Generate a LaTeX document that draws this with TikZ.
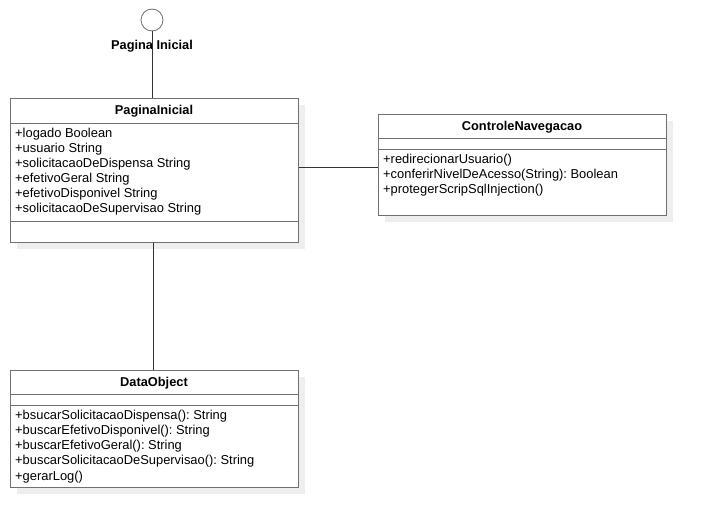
\documentclass[tikz,border=0pt]{standalone}
\usepackage{fontspec}
\setmainfont{Liberation Sans}
\frenchspacing
\begin{document}
\begin{tikzpicture}[x=1pt,y=-1pt,
  classbox/.style={draw=boxgray, fill=white, line width=1pt, rectangle, inner sep=0pt, anchor=north west},
  shadowbox/.style={fill=shadowgray, draw=none, rectangle, inner sep=0pt, anchor=north west},
  sepline/.style={draw=boxgray, line width=1pt},
  title/.style={font=\fontsize{12.8}{14}\selectfont\bfseries, anchor=center, inner sep=0pt},
  member/.style={font=\fontsize{12.9}{14}\selectfont, anchor=west, inner sep=0pt},
  conn/.style={draw=black!80, line width=0.9pt}]
\definecolor{boxgray}{HTML}{707070}
\definecolor{shadowgray}{HTML}{EEEEEE}
\useasboundingbox (0,0) rectangle (706,527);
% interface
\node[circle, draw=boxgray, fill=white, line width=0.8pt, minimum size=22pt, inner sep=0pt] (iface) at (152,20) {};
\node[font=\fontsize{12.8}{14}\selectfont\bfseries, inner sep=0pt] (ifacelabel) at (152,46) {Pagina Inicial};
% PaginaInicial
\node[shadowbox, minimum width=288pt, minimum height=144pt] (pishadow) at (17,105) {};
\node[classbox, minimum width=288pt, minimum height=144pt] (pi) at (10,98) {};
\draw[sepline] (10,123) -- (298,123);
\draw[sepline] (10,221) -- (298,221);
\node[title] (pititle) at (154,111.5) {PaginaInicial};
\node[member] (pi1) at (15,134.5) {+logado Boolean};
\node[member] (pi2) at (15,149.5) {+usuario String};
\node[member] (pi3) at (15,164.5) {+solicitacaoDeDispensa String};
\node[member] (pi4) at (15,179.5) {+efetivoGeral String};
\node[member] (pi5) at (15,194.5) {+efetivoDisponivel String};
\node[member] (pi6) at (15,209.5) {+solicitacaoDeSupervisao String};
% ControleNavegacao
\node[shadowbox, minimum width=288pt, minimum height=101pt] (cnshadow) at (385,121) {};
\node[classbox, minimum width=288pt, minimum height=101pt] (cn) at (378,114) {};
\draw[sepline] (378,138.5) -- (666,138.5);
\draw[sepline] (378,149) -- (666,149);
\node[title] (cntitle) at (522,127.5) {ControleNavegacao};
\node[member] (cn1) at (383,160.5) {+redirecionarUsuario()};
\node[member] (cn2) at (383,175.5) {+conferirNivelDeAcesso(String): Boolean};
\node[member] (cn3) at (383,190.5) {+protegerScripSqlInjection()};
% DataObject
\node[shadowbox, minimum width=288pt, minimum height=117pt] (doshadow) at (17,377) {};
\node[classbox, minimum width=288pt, minimum height=117pt] (do) at (10,370) {};
\draw[sepline] (10,394.5) -- (298,394.5);
\draw[sepline] (10,405) -- (298,405);
\node[title] (dotitle) at (154,383.5) {DataObject};
\node[member] (do1) at (15,416.5) {+bsucarSolicitacaoDispensa(): String};
\node[member] (do2) at (15,431.5) {+buscarEfetivoDisponivel(): String};
\node[member] (do3) at (15,446.5) {+buscarEfetivoGeral(): String};
\node[member] (do4) at (15,461.5) {+buscarSolicitacaoDeSupervisao(): String};
\node[member] (do5) at (15,477) {+gerarLog()};
% connectors
\draw[conn] (iface.south) -- (iface.south |- pi.north);
\draw[conn] (pi.east |- 0,167) -- (cn.west |- 0,167);
\draw[conn] (pi.south -| 153,0) -- (do.north -| 153,0);
\end{tikzpicture}
\end{document}
